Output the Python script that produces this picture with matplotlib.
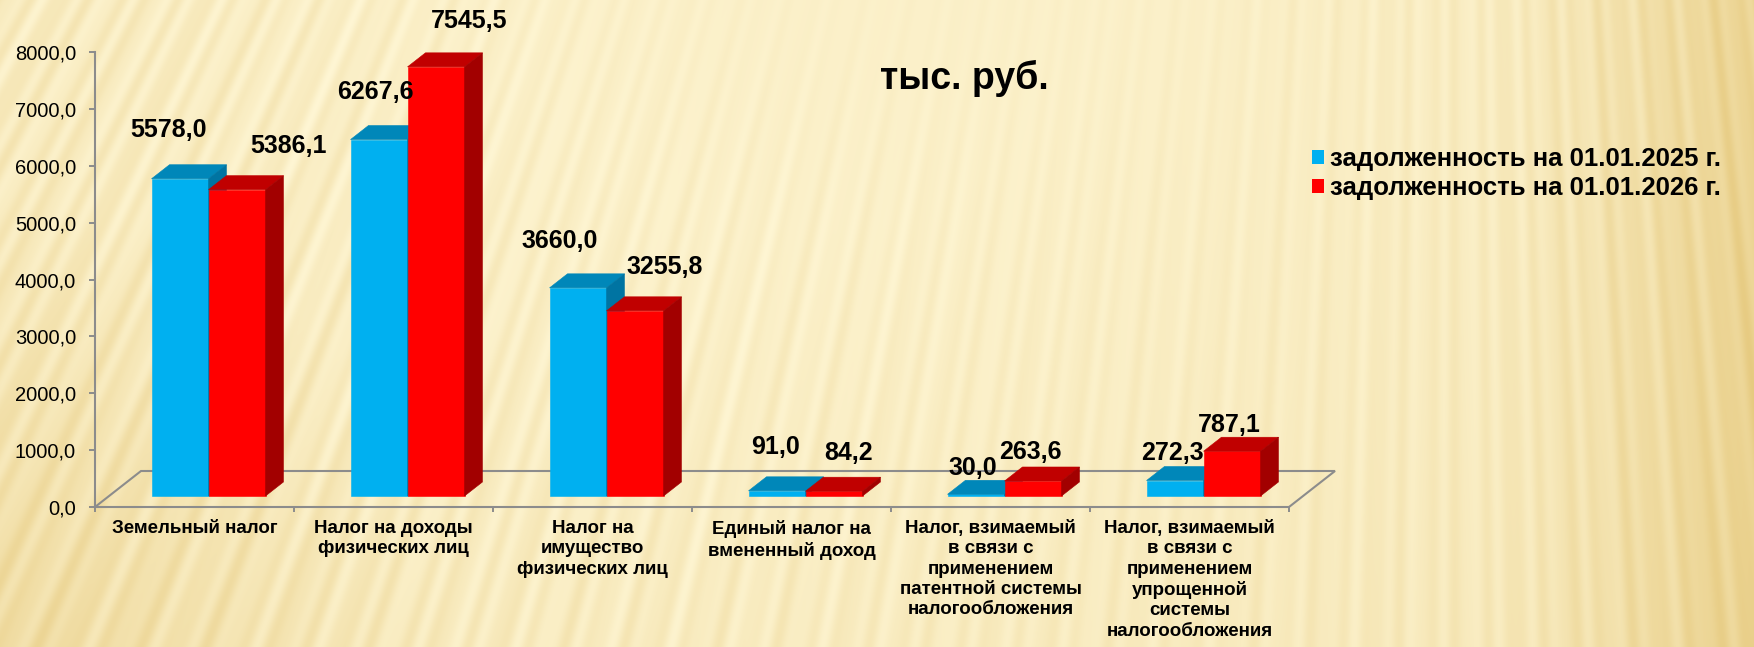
import numpy as np
import matplotlib
matplotlib.use('Agg')
import matplotlib.pyplot as plt
from matplotlib.patches import Polygon, Patch
from matplotlib.ticker import FuncFormatter

categories = [
    'Земельный налог',
    'Налог на доходы\nфизических лиц',
    'Налог на\nимущество\nфизических лиц',
    'Единый налог на\nвмененный доход',
    'Налог, взимаемый\nв связи с\nприменением\nпатентной системы\nналогообложения',
    'Налог, взимаемый\nв связи с\nприменением\nупрощенной\nсистемы\nналогообложения',
]
series_names = ['задолженность на 01.01.2025 г.', 'задолженность на 01.01.2026 г.']
debt_2025 = [5578.0, 6267.6, 3660.0, 91.0, 30.0, 272.3]
debt_2026 = [5386.1, 7545.5, 3255.8, 84.2, 263.6, 787.1]
y_ticks = [0, 1000, 2000, 3000, 4000, 5000, 6000, 7000, 8000]
unit_text = 'тыс. руб.'

# manual nudges of the data labels (pixels: right, up from the bar's front top)
nudge_2025 = [(-11, 49), (-4, 48), (-18, 47), (-2, 44), (-3, 26), (-3, 28)]
nudge_2026 = [(52, 44), (33, 46), (30, 44), (15, 38), (-3, 29), (-3, 26)]

# face colours: front, top, side
blue = ('#00B0F0', '#0087B9', '#0074A2')
red = ('#FF0000', '#C00000', '#A20000')
grey = '#8C8C8C'

plt.rcParams['font.family'] = ['Liberation Sans', 'DejaVu Sans']

W, H = 1754, 647
fig = plt.figure(figsize=(W / 100, H / 100), dpi=100)

# background: cream with soft light streaks
yy, xx = np.mgrid[0:H, 0:W].astype(float)
theta = np.arctan2(xx - 1450.0, yy + 2600.0)
streaks = (np.sin(theta * 700) + 0.5 * np.sin(theta * 1130 + 0.7)
           + 0.35 * np.sin(theta * 310 + 2.0)) / 1.85
amp = 0.35 + 0.65 * np.clip(1.1 - xx / 1100 + 0.3 * yy / H, 0, 1)
amp += 0.5 * np.clip((xx - 1200) / 400, 0, 1)
amp -= 0.4 * np.exp(-(((xx - 800) / 350) ** 2 + (yy / 180) ** 2))
amp = np.clip(amp, 0.1, 1.2)
shade = 0.14 + 0.25 * np.clip(np.hypot(xx - 800, yy + 100) / 1100 - 0.3, 0, 1)
shade += 0.45 * np.clip((xx - 1480) / 274, 0, 1) ** 1.3
shade += 0.25 * np.clip(1 - np.hypot(xx, yy - H) / 450, 0, 1)
shade += 0.18 * amp * streaks
shade = np.clip(shade, 0, 1)[..., None]
light = np.array([255, 247, 214]) / 255
tan = np.array([228, 198, 120]) / 255
bg = light * (1 - shade) + tan * shade

bg_ax = fig.add_axes([0, 0, 1, 1], zorder=-10)
bg_ax.imshow(bg, aspect='auto', interpolation='bilinear')
bg_ax.axis('off')

ax = fig.add_axes([95 / W, (H - 507) / H, 1194 / W, 455 / H])
ax.patch.set_alpha(0)
n = len(categories)
ax.set_xlim(0, n)
ax.set_ylim(0, 8000)

# depth of the floor, expressed in data units
p0 = ax.transData.transform((0, 0))
ddx, ddy = ax.transData.inverted().transform(p0 + np.array([46, 36]))

floor = Polygon([(0, 0), (n, 0), (n + ddx, ddy), (ddx, ddy)], closed=True,
                fill=False, edgecolor=grey, lw=1.5, clip_on=False, zorder=1)
ax.add_patch(floor)

bar_w = 0.2864
f_front, f_back = 0.305, 0.695


def fmt(v):
    return f'{v:.1f}'.replace('.', ',')


for i in range(n):
    for vals, cols, shift, nudge in ((debt_2025, blue, -bar_w, nudge_2025),
                                     (debt_2026, red, 0.0, nudge_2026)):
        v = vals[i]
        x0 = i + 0.5 + shift
        fx, fy = x0 + f_front * ddx, f_front * ddy
        bx, by = x0 + f_back * ddx, f_back * ddy
        faces = [
            ([(fx, fy), (fx + bar_w, fy), (fx + bar_w, fy + v), (fx, fy + v)], cols[0]),
            ([(fx, fy + v), (fx + bar_w, fy + v), (bx + bar_w, by + v), (bx, by + v)], cols[1]),
            ([(fx + bar_w, fy), (bx + bar_w, by), (bx + bar_w, by + v), (fx + bar_w, fy + v)], cols[2]),
        ]
        for pts, c in faces:
            ax.add_patch(Polygon(pts, closed=True, facecolor=c, edgecolor=c,
                                 lw=0.4, clip_on=False, zorder=2))
        ax.annotate(fmt(v), xy=(fx + bar_w / 2, fy + v), xytext=nudge[i],
                    textcoords='offset pixels', ha='center', va='center',
                    fontsize=18, fontweight='bold', zorder=5)

for s in ['top', 'right', 'bottom']:
    ax.spines[s].set_visible(False)
ax.spines['left'].set_color(grey)
ax.spines['left'].set_linewidth(1.5)

ax.set_yticks(y_ticks)
ax.yaxis.set_major_formatter(FuncFormatter(lambda v, p: fmt(v)))
ax.tick_params(axis='y', direction='out', length=4.3, width=1.4, color=grey,
               labelsize=14.5, pad=9.4)

ax.set_xticks(range(n + 1))
ax.set_xticklabels([])
ax.set_xticks(np.arange(n) + 0.5, minor=True)
ax.set_xticklabels(categories, minor=True, fontsize=13.5, fontweight='bold',
                   linespacing=1.25)
ax.tick_params(axis='x', which='major', direction='out', length=3.6, width=1.4, color=grey)
ax.tick_params(axis='x', which='minor', length=0, pad=9.5)

fig.text(964 / W, 1 - 78 / H, unit_text, ha='center', va='center',
         fontsize=27, fontweight='bold')

handles = [Patch(facecolor=blue[0]), Patch(facecolor=red[0])]
fig.legend(handles, series_names, loc='upper left',
           bbox_to_anchor=(1312 / W, 1 - 147 / H), frameon=False,
           prop={'weight': 'bold', 'size': 18.5}, handlelength=0.47,
           handleheight=0.47, handletextpad=0.22, labelspacing=0.2,
           borderpad=0, borderaxespad=0)

fig.savefig('out.png', dpi=100)
